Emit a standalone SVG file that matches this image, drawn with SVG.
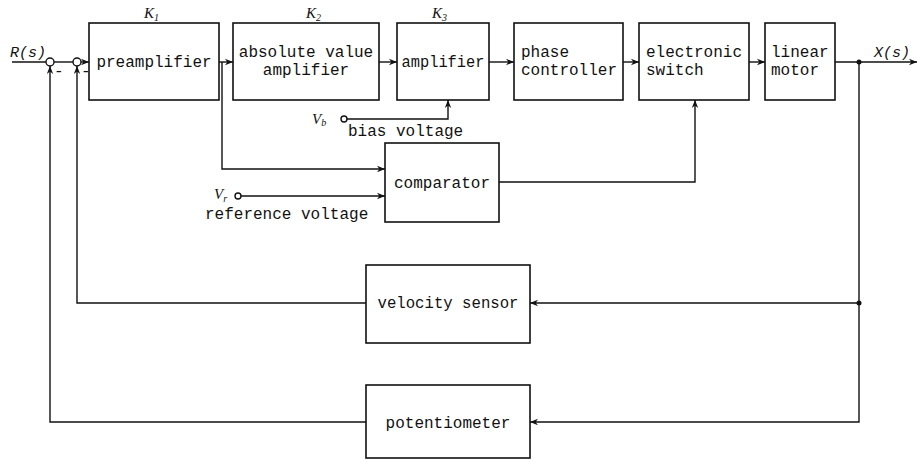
<svg xmlns="http://www.w3.org/2000/svg" width="918" height="459" viewBox="0 0 918 459">
<defs>
<marker id="ar" viewBox="0 0 10 10" refX="10" refY="5" markerWidth="8" markerHeight="8" markerUnits="userSpaceOnUse" orient="auto">
<path d="M0,1 L10,5 L0,9 L3,5 Z" fill="#111"/>
</marker>
<style>
.box{fill:#fff;stroke:#111;stroke-width:1.6}
.ln{fill:none;stroke:#111;stroke-width:1.4}
.t{font-family:"Liberation Mono","DejaVu Sans Mono",monospace;font-size:16px;fill:#111}
.mi{font-family:"Liberation Mono","DejaVu Sans Mono",monospace;font-style:italic;font-size:15px;fill:#111}
.m{font-family:"Liberation Serif","DejaVu Serif",serif;font-style:italic;font-size:15px;fill:#111}
.s{font-family:"Liberation Serif","DejaVu Serif",serif;font-size:10px;fill:#111}
.c{fill:#fff;stroke:#111;stroke-width:1.4}
</style>
</defs>
<rect width="918" height="459" fill="#fff"/>
<g id="connectors">
<path class="ln" d="M12,62 H46"/>
<path class="ln" d="M54,62 H73"/>
<path class="ln" d="M81,62 H89" marker-end="url(#ar)"/>
<path class="ln" d="M219,62 H233" marker-end="url(#ar)"/>
<path class="ln" d="M379,62 H397" marker-end="url(#ar)"/>
<path class="ln" d="M489,62 H514" marker-end="url(#ar)"/>
<path class="ln" d="M623,62 H639" marker-end="url(#ar)"/>
<path class="ln" d="M749,62 H765" marker-end="url(#ar)"/>
<path class="ln" d="M835,62 H917" marker-end="url(#ar)"/>
<path class="ln" d="M222,62 V169 H385" marker-end="url(#ar)"/>
<path class="ln" d="M241,196 H385" marker-end="url(#ar)"/>
<path class="ln" d="M347,119 H448 V100" marker-end="url(#ar)"/>
<path class="ln" d="M499,182 H695 V100" marker-end="url(#ar)"/>
<path class="ln" d="M859,62 V303 H530" marker-end="url(#ar)"/>
<path class="ln" d="M366,303 H77 V66" marker-end="url(#ar)"/>
<path class="ln" d="M859,303 V422 H530" marker-end="url(#ar)"/>
<path class="ln" d="M366,422 H50 V66" marker-end="url(#ar)"/>
<circle cx="859" cy="62" r="2.5" fill="#111"/>
<circle cx="859" cy="303" r="2.5" fill="#111"/>
</g>
<g id="sum1"><circle class="c" cx="50" cy="62" r="4"/><text class="t" x="54" y="76" font-size="13">-</text></g>
<g id="sum2"><circle class="c" cx="77" cy="62" r="4"/><text class="t" x="81" y="76" font-size="13">-</text></g>
<g id="vb-term"><circle class="c" cx="344" cy="119" r="3"/></g>
<g id="vr-term"><circle class="c" cx="238" cy="196" r="3"/></g>
<g id="preamplifier"><rect class="box" x="89" y="23" width="130" height="77"/><text class="t" x="154" y="67" text-anchor="middle">preamplifier</text></g>
<g id="absolute"><rect class="box" x="233" y="23" width="146" height="77"/><text class="t" x="306" y="57" text-anchor="middle">absolute value</text><text class="t" x="306" y="75" text-anchor="middle">amplifier</text></g>
<g id="amplifier"><rect class="box" x="397" y="23" width="92" height="77"/><text class="t" x="443" y="67" text-anchor="middle" textLength="83" lengthAdjust="spacingAndGlyphs">amplifier</text></g>
<g id="phase"><rect class="box" x="514" y="23" width="109" height="77"/><text class="t" x="521" y="57">phase</text><text class="t" x="521" y="75">controller</text></g>
<g id="switch"><rect class="box" x="639" y="23" width="110" height="77"/><text class="t" x="646" y="57">electronic</text><text class="t" x="646" y="75">switch</text></g>
<g id="motor"><rect class="box" x="765" y="23" width="70" height="77"/><text class="t" x="771" y="57">linear</text><text class="t" x="771" y="75">motor</text></g>
<g id="comparator"><rect class="box" x="385" y="143" width="114" height="79"/><text class="t" x="442" y="188" text-anchor="middle">comparator</text></g>
<g id="velocity"><rect class="box" x="366" y="265" width="164" height="78"/><text class="t" x="448" y="308" text-anchor="middle" textLength="141" lengthAdjust="spacingAndGlyphs">velocity sensor</text></g>
<g id="potentiometer"><rect class="box" x="366" y="385" width="164" height="73"/><text class="t" x="448" y="428" text-anchor="middle">potentiometer</text></g>
<g id="labels">
<text class="m" x="144" y="18">K<tspan class="s" dy="3">1</tspan></text>
<text class="m" x="306" y="18">K<tspan class="s" dy="3">2</tspan></text>
<text class="m" x="432" y="18">K<tspan class="s" dy="3">3</tspan></text>
<text class="mi" x="10" y="57">R(s)</text>
<text class="mi" x="874" y="57">X(s)</text>
<text class="m" x="312" y="124" font-size="16">V<tspan class="s" dy="2" font-style="italic" font-size="13">b</tspan></text>
<text class="t" x="348" y="136">bias voltage</text>
<text class="m" x="214" y="199" font-size="16">V<tspan class="s" dy="3" font-style="italic" font-size="13">r</tspan></text>
<text class="t" x="205" y="219">reference voltage</text>
</g>
</svg>
